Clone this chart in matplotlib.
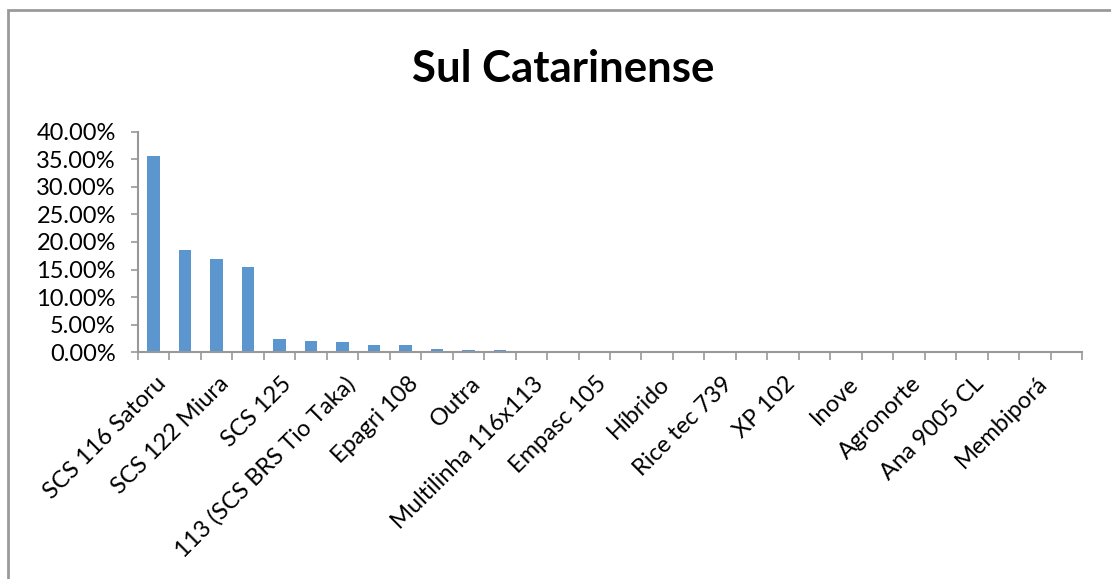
import matplotlib.pyplot as plt
from matplotlib.patches import Rectangle
from matplotlib.ticker import FuncFormatter
from matplotlib.transforms import ScaledTranslation

# --- Data ---
TITLE = 'Sul Catarinense'
LABELS = ['SCS 116 Satoru', 'SCS 122 Miura', 'SCS 125', '113 (SCS BRS Tio Taka)',
          'Epagri 108', 'Outra', 'Multilinha 116x113', 'Empasc 105', 'Híbrido',
          'Rice tec 739', 'XP 102', 'Inove', 'Agronorte', 'Ana 9005 CL', 'Membiporá']
VALUES = [35.6, 18.5, 16.9, 15.45, 2.4, 2.0, 1.85, 1.3, 1.3, 0.55,
          0.45, 0.35, 0.3, 0.22, 0.2, 0.0, 0.0, 0.0, 0.0, 0.0,
          0.0, 0.0, 0.0, 0.0, 0.0, 0.0, 0.0, 0.0, 0.0, 0.0]

BAR_COLOR = '#5B96CF'
AXIS_COLOR = '#989898'
FONT = ['Lato', 'DejaVu Sans']

plt.rcParams['font.family'] = FONT

W, H = 1111, 579
fig = plt.figure(figsize=(W / 100, H / 100), dpi=100)

# outer chart frame (runs off the right and bottom edges)
fig.patches.append(Rectangle((8 / W, -0.1), 1.2, 1 - 10 / H + 0.1,
                             transform=fig.transFigure, fill=False,
                             edgecolor='#9a9a9a', linewidth=2))

ax = fig.add_axes([138 / W, 1 - 352.3 / H, (1082 - 138) / W, (352.3 - 131.7) / H])

n = len(VALUES)
x = list(range(n))
ax.bar(x, [v / 100 for v in VALUES], width=0.4, color=BAR_COLOR, zorder=2)

ax.set_xlim(-0.5, n - 0.5)
ax.set_ylim(0, 0.40)
ax.set_yticks([i * 0.05 for i in range(9)])
ax.yaxis.set_major_formatter(FuncFormatter(lambda v, p: f'{v * 100:.2f}%'))

for s in ['top', 'right']:
    ax.spines[s].set_visible(False)
for s in ['left', 'bottom']:
    ax.spines[s].set_color(AXIS_COLOR)
    ax.spines[s].set_linewidth(1.5)

ax.tick_params(axis='y', colors=AXIS_COLOR, labelcolor='black', labelsize=17,
               length=5, width=1.2, pad=11)

# category boundary ticks on x axis, labels on every other category
ax.set_xticks([i - 0.5 for i in range(n + 1)], minor=True)
ax.tick_params(axis='x', which='minor', colors=AXIS_COLOR, length=6, width=1.2)
ax.set_xticks(x[::2])
ax.set_xticklabels(LABELS, rotation=45, ha='right', va='center',
                   rotation_mode='anchor', fontsize=17)
ax.tick_params(axis='x', which='major', length=0, pad=21)
shift = ScaledTranslation(9 / 100, 1 / 100, fig.dpi_scale_trans)
for lab in ax.get_xticklabels():
    lab.set_transform(lab.get_transform() + shift)

fig.text(563 / W, 1 - 69 / H, TITLE, ha='center', va='center',
         fontsize=31.5, fontweight='bold')

fig.savefig('out.png', dpi=100)
